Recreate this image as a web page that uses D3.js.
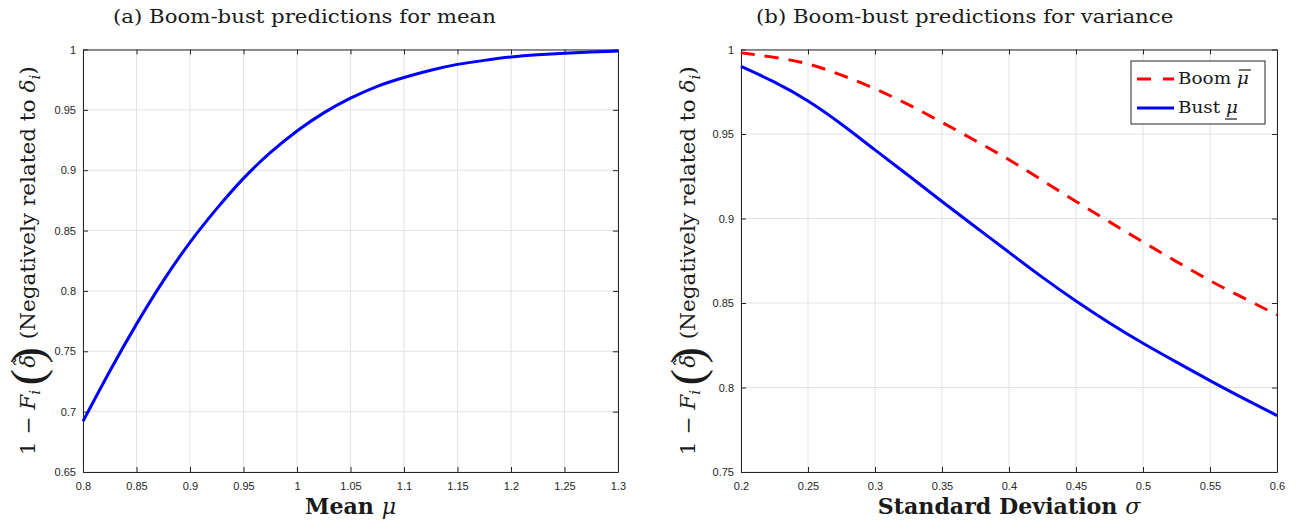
<!DOCTYPE html>
<html><head><meta charset="utf-8">
<script src="https://cdn.jsdelivr.net/npm/d3@7"></script>
<style>
html,body{margin:0;padding:0;background:#fff;}
svg{display:block;}
</style>
</head><body>
<svg id="chart" width="1304" height="523"></svg>
<script>
// ---- Data ----
const meanX = [0.8,0.825,0.85,0.875,0.9,0.925,0.95,0.975,1.0,1.025,1.05,1.075,1.1,1.125,1.15,1.175,1.2,1.225,1.25,1.275,1.3];
const meanY = [0.692,0.734,0.773,0.809,0.841,0.8685,0.894,0.915,0.933,0.948,0.960,0.970,0.977,0.983,0.988,0.991,0.994,0.9957,0.997,0.998,0.9987];

const sdX   = [0.2,0.225,0.25,0.275,0.3,0.325,0.35,0.375,0.4,0.425,0.45,0.475,0.5,0.525,0.55,0.575,0.6];
const boomY = [0.998,0.9955,0.992,0.985,0.977,0.9675,0.957,0.946,0.935,0.9225,0.910,0.898,0.886,0.8745,0.863,0.853,0.843];
const bustY = [0.990,0.981,0.970,0.956,0.9405,0.9255,0.910,0.895,0.880,0.865,0.851,0.838,0.826,0.815,0.804,0.7935,0.7834];

const meanXTicks = [0.8,0.85,0.9,0.95,1,1.05,1.1,1.15,1.2,1.25,1.3];
const meanYTicks = [0.65,0.7,0.75,0.8,0.85,0.9,0.95,1];
const sdXTicks   = [0.2,0.25,0.3,0.35,0.4,0.45,0.5,0.55,0.6];
const sdYTicks   = [0.75,0.8,0.85,0.9,0.95,1];

const titles = ["(a) Boom-bust predictions for mean", "(b) Boom-bust predictions for variance"];
const seriesNames = ["Boom", "Bust"];

// ---- Drawing ----
const svg = d3.select("#chart");
const SERIF = "'DejaVu Serif','Liberation Serif',serif";
const THIN = "'Liberation Serif',serif";
const SANS = "'Liberation Sans',Arial,sans-serif";
const AX = "#262626";
const TXT = "#1a1a1a";
const SX = 1.15; // wide LaTeX-like text
const fmt = d3.format("~g");

function panel(cfg){
  const x = d3.scaleLinear().domain(cfg.xDom).range([cfg.x0, cfg.x1]);
  const y = d3.scaleLinear().domain(cfg.yDom).range([cfg.y1, cfg.y0]);
  const g = svg.append("g");
  // grid
  g.append("g").selectAll("line").data(cfg.xTicks).join("line")
    .attr("x1", d=>x(d)).attr("x2", d=>x(d)).attr("y1", cfg.y0).attr("y2", cfg.y1)
    .attr("stroke", "#e3e3e3").attr("stroke-width", 1);
  g.append("g").selectAll("line").data(cfg.yTicks).join("line")
    .attr("y1", d=>y(d)).attr("y2", d=>y(d)).attr("x1", cfg.x0).attr("x2", cfg.x1)
    .attr("stroke", "#e3e3e3").attr("stroke-width", 1);

  // axes
  const styleAxis = sel => {
    sel.selectAll(".domain").attr("stroke", AX).attr("stroke-width", 1);
    sel.selectAll(".tick line").attr("stroke", AX);
    sel.selectAll("text").attr("font-family", SANS).attr("font-size", 11).attr("fill", AX);
  };
  g.append("g").attr("transform", `translate(0,${cfg.y1})`)
    .call(d3.axisBottom(x).tickValues(cfg.xTicks).tickFormat(fmt).tickSizeInner(-5).tickSizeOuter(0).tickPadding(10))
    .call(styleAxis);
  g.append("g").attr("transform", `translate(0,${cfg.y0})`)
    .call(d3.axisTop(x).tickValues(cfg.xTicks).tickFormat("").tickSizeInner(-5).tickSizeOuter(0))
    .call(styleAxis);
  g.append("g").attr("transform", `translate(${cfg.x0},0)`)
    .call(d3.axisLeft(y).tickValues(cfg.yTicks).tickFormat(fmt).tickSizeInner(-5).tickSizeOuter(0).tickPadding(7))
    .call(styleAxis);
  g.append("g").attr("transform", `translate(${cfg.x1},0)`)
    .call(d3.axisRight(y).tickValues(cfg.yTicks).tickFormat("").tickSizeInner(-5).tickSizeOuter(0))
    .call(styleAxis);

  // series
  cfg.series.forEach(s => {
    const line = d3.line().x((d,i)=>x(s.xs[i])).y(d=>y(d)).curve(d3.curveBasis);
    g.append("path").datum(s.ys).attr("d", line)
      .attr("fill", "none").attr("stroke", s.color).attr("stroke-width", 3)
      .attr("stroke-dasharray", s.dash || null);
  });

  // title
  svg.append("text").attr("transform", `translate(${cfg.titleX},23) scale(${SX},1)`)
    .attr("text-anchor", "start")
    .attr("font-family", SERIF).attr("font-size", 18.5).attr("fill", TXT).text(cfg.title);

  // x label
  const xl = svg.append("text")
    .attr("transform", `translate(${(cfg.x0+cfg.x1)/2},514) scale(${cfg.xlScale},1)`)
    .attr("text-anchor", "middle")
    .attr("font-family", SERIF).attr("font-size", 21.5).attr("fill", TXT);
  xl.append("tspan").attr("font-weight", "bold").text(cfg.xLabel + "\u00A0");
  xl.append("tspan").attr("font-style", "italic").text(cfg.xSym);

  // y label
  const yl = svg.append("text")
    .attr("transform", `translate(${cfg.ylx},${(cfg.y0+cfg.y1)/2}) rotate(-90) scale(1.08,1)`)
    .attr("text-anchor", "middle").attr("font-family", SERIF).attr("font-size", 20).attr("fill", TXT);
  yl.append("tspan").text("1 \u2212 ");
  yl.append("tspan").attr("font-style", "italic").text("F");
  yl.append("tspan").attr("font-style", "italic").attr("font-size", 14).attr("dy", 5).text("i");
  yl.append("tspan").attr("font-family", THIN).attr("font-size", 46).attr("dy", 3).attr("dx", 4).text("(");
  yl.append("tspan").attr("font-style", "italic").attr("dy", -8).attr("dx", 1).text("\u03B4");
  yl.append("tspan").attr("dx", -11).attr("dy", -6).text("\u02DC");
  yl.append("tspan").attr("font-family", THIN).attr("font-size", 46).attr("dy", 14).attr("dx", -7).text(")");
  yl.append("tspan").attr("dy", -8).attr("dx", 7).text("(Negatively related to ");
  yl.append("tspan").attr("font-style", "italic").text("\u03B4");
  yl.append("tspan").attr("font-style", "italic").attr("font-size", 14).attr("dy", 5).text("i");
  yl.append("tspan").attr("dy", -5).text(")");
  return {x, y, g};
}

panel({
  x0: 83, x1: 618, y0: 49.5, y1: 472,
  xDom: [0.8, 1.3], yDom: [0.65, 1],
  xTicks: meanXTicks, yTicks: meanYTicks,
  series: [{xs: meanX, ys: meanY, color: "#0000ff"}],
  title: titles[0], titleX: 113,
  xLabel: "Mean", xSym: "\u03BC", xlScale: 1.03, ylx: 35
});

panel({
  x0: 741, x1: 1277, y0: 49.5, y1: 472,
  xDom: [0.2, 0.6], yDom: [0.75, 1],
  xTicks: sdXTicks, yTicks: sdYTicks,
  series: [
    {xs: sdX, ys: boomY, color: "#ff0000", dash: "14,10"},
    {xs: sdX, ys: bustY, color: "#0000ff"}
  ],
  title: titles[1], titleX: 756,
  xLabel: "Standard Deviation", xSym: "\u03C3", xlScale: 1.03, ylx: 695
});

// legend
const lg = svg.append("g");
lg.append("rect").attr("x", 1131).attr("y", 61).attr("width", 134).attr("height", 63)
  .attr("fill", "#fff").attr("stroke", AX).attr("stroke-width", 1);
const legItems = [
  {name: seriesNames[0], color: "#ff0000", dash: "14,12", y: 79, base: 84, mark: "over"},
  {name: seriesNames[1], color: "#0000ff", dash: null, y: 108, base: 113, mark: "under"}
];
legItems.forEach(it => {
  lg.append("line").attr("x1", 1137).attr("x2", 1174).attr("y1", it.y).attr("y2", it.y)
    .attr("stroke", it.color).attr("stroke-width", 3).attr("stroke-dasharray", it.dash);
  const t = lg.append("text").attr("transform", `translate(1178,${it.base}) scale(${SX},1)`)
    .attr("font-family", SERIF).attr("font-size", 16).attr("fill", TXT).text(it.name + "\u00A0");
  const w = t.node().getComputedTextLength() * SX;
  const m = lg.append("text").attr("transform", `translate(${1178 + w},${it.base}) scale(${SX},1)`)
    .attr("font-family", SERIF).attr("font-size", 16).attr("font-style", "italic").attr("fill", TXT).text("\u03BC");
  const mw = m.node().getComputedTextLength() * SX;
  const ly = it.mark === "over" ? it.base - 14 : it.base + 6;
  const off = it.mark === "over" ? 2 : -1;
  lg.append("line").attr("x1", 1178 + w + off).attr("x2", 1178 + w + mw + off).attr("y1", ly).attr("y2", ly)
    .attr("stroke", TXT).attr("stroke-width", 1.2);
});
</script>
</body></html>
